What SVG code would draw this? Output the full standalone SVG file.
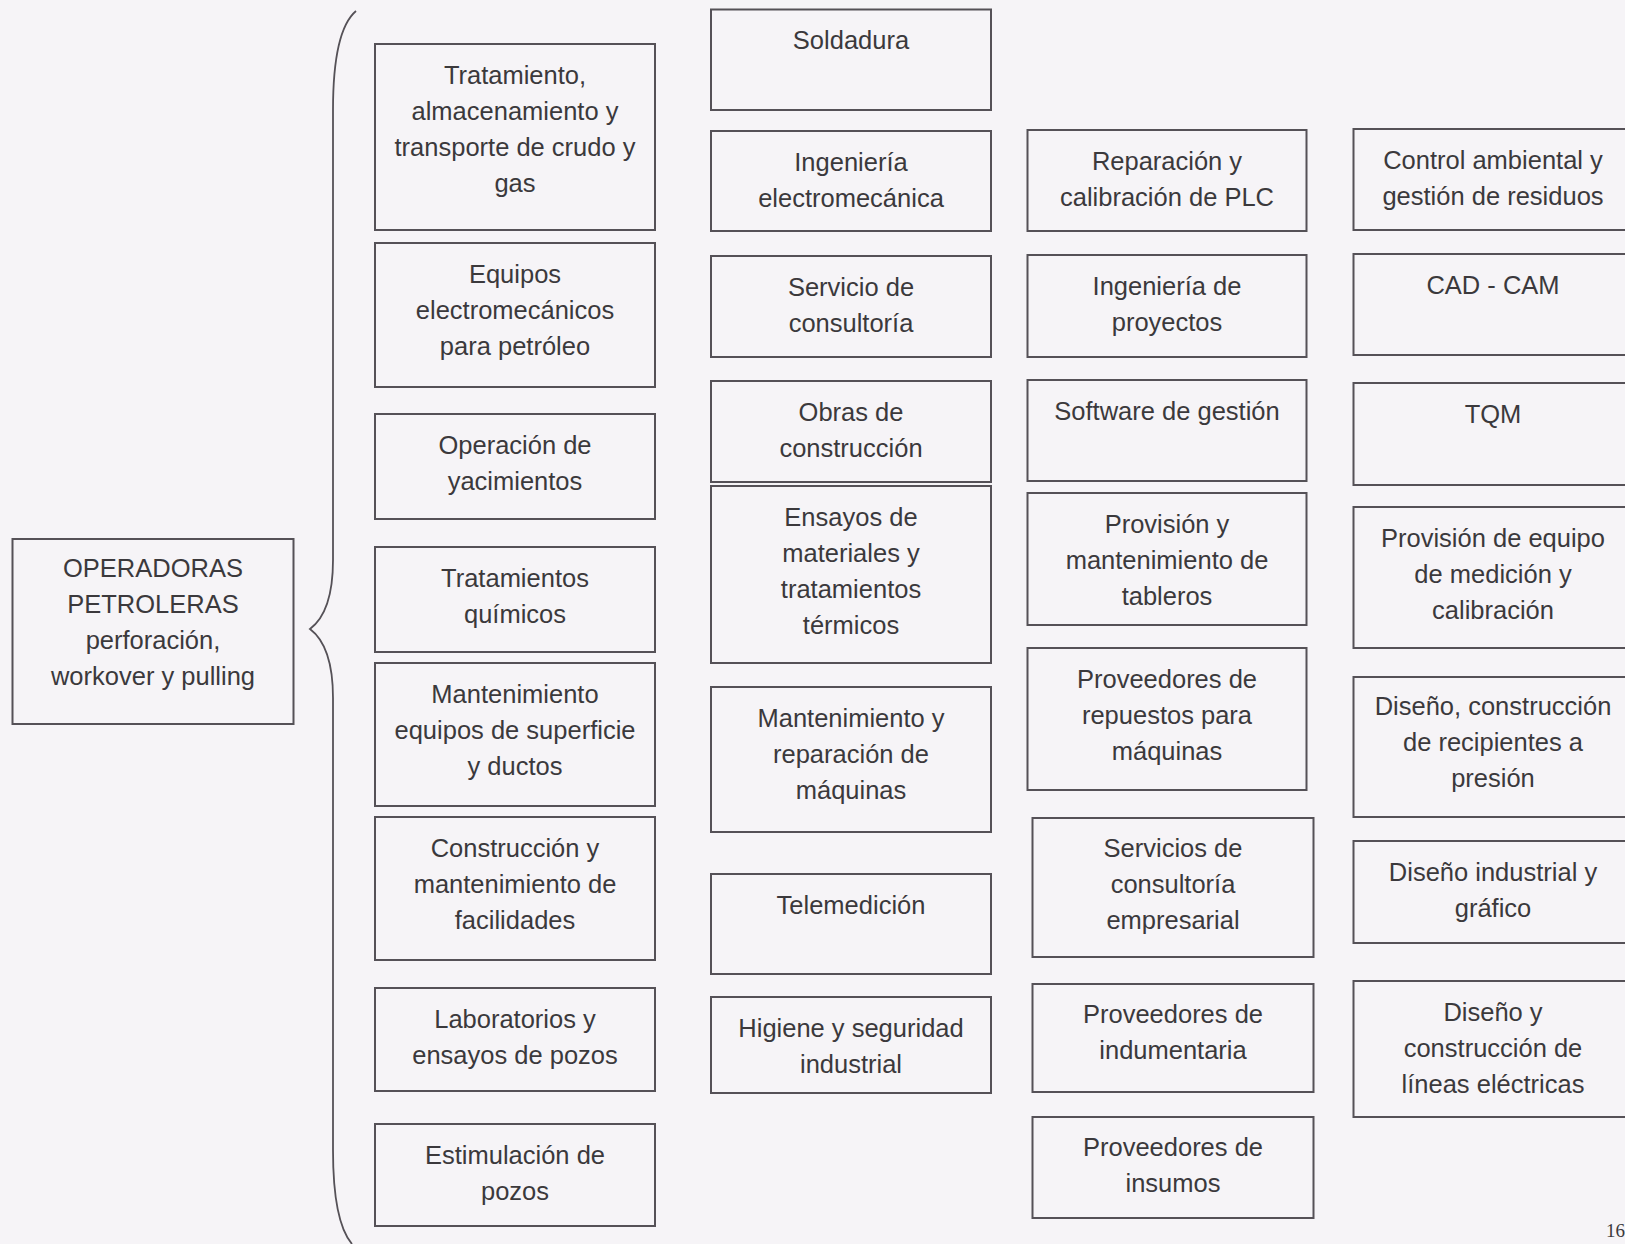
<svg xmlns="http://www.w3.org/2000/svg" width="1625" height="1244" viewBox="0 0 1625 1244">
<style>
.bg{fill:#f6f4f7}
.box{fill:none;stroke:#555157;stroke-width:2}
.t{font-family:"Liberation Sans",Arial,sans-serif;font-size:25.5px;fill:#3b393c;text-anchor:middle}
.brace{fill:none;stroke:#555157;stroke-width:1.8}
.pg{font-family:"Liberation Serif","Times New Roman",serif;font-size:19px;fill:#3b393c}
</style>
<rect class="bg" x="0" y="0" width="1625" height="1244"/>
<g id="connectors">
<path class="brace" d="M356 11 C343 22 333 50 333 110 L333 560 C333 600 322 620 310 629 C322 638 333 658 333 698 L333 1150 C333 1200 340 1230 352 1244"/>
</g>
<g id="root">
<rect class="box" x="12.5" y="539" width="281" height="185"/>
<text class="t" x="153" y="577">OPERADORAS</text>
<text class="t" x="153" y="613">PETROLERAS</text>
<text class="t" x="153" y="649">perforación,</text>
<text class="t" x="153" y="685">workover y pulling</text>
</g>
<g id="c1n1"><rect class="box" x="375" y="44" width="280" height="186"/>
<text class="t" x="515" y="83.5">Tratamiento,</text><text class="t" x="515" y="119.5">almacenamiento y</text><text class="t" x="515" y="155.5">transporte de crudo y</text><text class="t" x="515" y="191.5">gas</text></g>
<g id="c1n2"><rect class="box" x="375" y="243" width="280" height="144"/>
<text class="t" x="515" y="282.5">Equipos</text><text class="t" x="515" y="318.5">electromecánicos</text><text class="t" x="515" y="354.5">para petróleo</text></g>
<g id="c1n3"><rect class="box" x="375" y="414" width="280" height="105"/>
<text class="t" x="515" y="453.5">Operación de</text><text class="t" x="515" y="489.5">yacimientos</text></g>
<g id="c1n4"><rect class="box" x="375" y="547" width="280" height="105"/>
<text class="t" x="515" y="586.5">Tratamientos</text><text class="t" x="515" y="622.5">químicos</text></g>
<g id="c1n5"><rect class="box" x="375" y="663" width="280" height="143"/>
<text class="t" x="515" y="702.5">Mantenimiento</text><text class="t" x="515" y="738.5">equipos de superficie</text><text class="t" x="515" y="774.5">y ductos</text></g>
<g id="c1n6"><rect class="box" x="375" y="817" width="280" height="143"/>
<text class="t" x="515" y="856.5">Construcción y</text><text class="t" x="515" y="892.5">mantenimiento de</text><text class="t" x="515" y="928.5">facilidades</text></g>
<g id="c1n7"><rect class="box" x="375" y="988" width="280" height="103"/>
<text class="t" x="515" y="1027.5">Laboratorios y</text><text class="t" x="515" y="1063.5">ensayos de pozos</text></g>
<g id="c1n8"><rect class="box" x="375" y="1124" width="280" height="102"/>
<text class="t" x="515" y="1163.5">Estimulación de</text><text class="t" x="515" y="1199.5">pozos</text></g>

<g id="c2n1"><rect class="box" x="711" y="9.5" width="280" height="100.5"/>
<text class="t" x="851" y="49">Soldadura</text></g>
<g id="c2n2"><rect class="box" x="711" y="131" width="280" height="100"/>
<text class="t" x="851" y="170.5">Ingeniería</text><text class="t" x="851" y="206.5">electromecánica</text></g>
<g id="c2n3"><rect class="box" x="711" y="256" width="280" height="101"/>
<text class="t" x="851" y="295.5">Servicio de</text><text class="t" x="851" y="331.5">consultoría</text></g>
<g id="c2n4"><rect class="box" x="711" y="381" width="280" height="101"/>
<text class="t" x="851" y="420.5">Obras de</text><text class="t" x="851" y="456.5">construcción</text></g>
<g id="c2n5"><rect class="box" x="711" y="486" width="280" height="177"/>
<text class="t" x="851" y="525.5">Ensayos de</text><text class="t" x="851" y="561.5">materiales y</text><text class="t" x="851" y="597.5">tratamientos</text><text class="t" x="851" y="633.5">térmicos</text></g>
<g id="c2n6"><rect class="box" x="711" y="687" width="280" height="145"/>
<text class="t" x="851" y="726.5">Mantenimiento y</text><text class="t" x="851" y="762.5">reparación de</text><text class="t" x="851" y="798.5">máquinas</text></g>
<g id="c2n7"><rect class="box" x="711" y="874" width="280" height="100"/>
<text class="t" x="851" y="913.5">Telemedición</text></g>
<g id="c2n8"><rect class="box" x="711" y="997" width="280" height="96"/>
<text class="t" x="851" y="1036.5">Higiene y seguridad</text><text class="t" x="851" y="1072.5">industrial</text></g>

<g id="c3n1"><rect class="box" x="1027.5" y="130" width="279" height="101"/>
<text class="t" x="1167" y="169.5">Reparación y</text><text class="t" x="1167" y="205.5">calibración de PLC</text></g>
<g id="c3n2"><rect class="box" x="1027.5" y="255" width="279" height="102"/>
<text class="t" x="1167" y="294.5">Ingeniería de</text><text class="t" x="1167" y="330.5">proyectos</text></g>
<g id="c3n3"><rect class="box" x="1027.5" y="380" width="279" height="101"/>
<text class="t" x="1167" y="419.5">Software de gestión</text></g>
<g id="c3n4"><rect class="box" x="1027.5" y="493" width="279" height="132"/>
<text class="t" x="1167" y="532.5">Provisión y</text><text class="t" x="1167" y="568.5">mantenimiento de</text><text class="t" x="1167" y="604.5">tableros</text></g>
<g id="c3n5"><rect class="box" x="1027.5" y="648" width="279" height="142"/>
<text class="t" x="1167" y="687.5">Proveedores de</text><text class="t" x="1167" y="723.5">repuestos para</text><text class="t" x="1167" y="759.5">máquinas</text></g>
<g id="c3n6"><rect class="box" x="1032.5" y="818" width="281" height="139"/>
<text class="t" x="1173" y="856.5">Servicios de</text><text class="t" x="1173" y="892.5">consultoría</text><text class="t" x="1173" y="928.5">empresarial</text></g>
<g id="c3n7"><rect class="box" x="1032.5" y="984" width="281" height="108"/>
<text class="t" x="1173" y="1023">Proveedores de</text><text class="t" x="1173" y="1059">indumentaria</text></g>
<g id="c3n8"><rect class="box" x="1032.5" y="1117" width="281" height="101"/>
<text class="t" x="1173" y="1155.5">Proveedores de</text><text class="t" x="1173" y="1191.5">insumos</text></g>

<g id="c4n1"><rect class="box" x="1353.5" y="129" width="280" height="101"/>
<text class="t" x="1493" y="168.5">Control ambiental y</text><text class="t" x="1493" y="204.5">gestión de residuos</text></g>
<g id="c4n2"><rect class="box" x="1353.5" y="254" width="280" height="101"/>
<text class="t" x="1493" y="293.5">CAD - CAM</text></g>
<g id="c4n3"><rect class="box" x="1353.5" y="383" width="280" height="102"/>
<text class="t" x="1493" y="422.5">TQM</text></g>
<g id="c4n4"><rect class="box" x="1353.5" y="507" width="280" height="141"/>
<text class="t" x="1493" y="546.5">Provisión de equipo</text><text class="t" x="1493" y="582.5">de medición y</text><text class="t" x="1493" y="618.5">calibración</text></g>
<g id="c4n5"><rect class="box" x="1353.5" y="677" width="280" height="140"/>
<text class="t" x="1493" y="714.5">Diseño, construcción</text><text class="t" x="1493" y="750.5">de recipientes a</text><text class="t" x="1493" y="786.5">presión</text></g>
<g id="c4n6"><rect class="box" x="1353.5" y="841" width="280" height="102"/>
<text class="t" x="1493" y="880.5">Diseño industrial y</text><text class="t" x="1493" y="916.5">gráfico</text></g>
<g id="c4n7"><rect class="box" x="1353.5" y="981" width="280" height="136"/>
<text class="t" x="1493" y="1020.5">Diseño y</text><text class="t" x="1493" y="1056.5">construcción de</text><text class="t" x="1493" y="1092.5">líneas eléctricas</text></g>

<text class="pg" x="1606" y="1237">16</text>
</svg>
